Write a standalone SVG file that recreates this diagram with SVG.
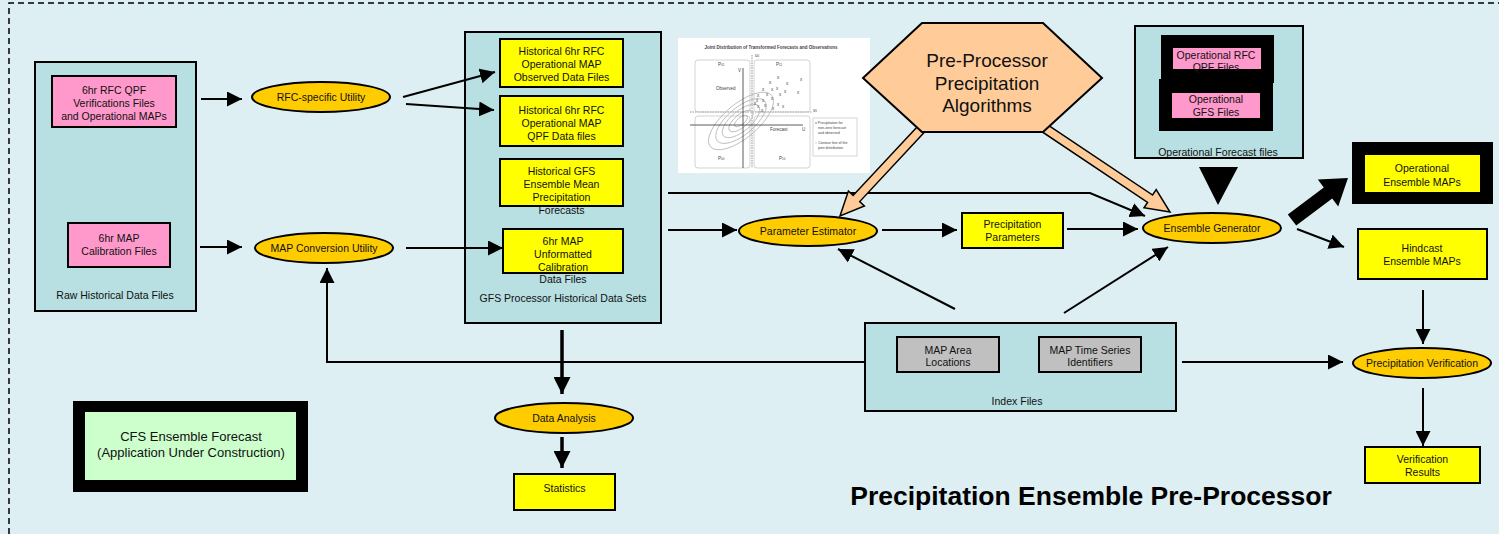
<svg xmlns="http://www.w3.org/2000/svg" width="1499" height="534" viewBox="0 0 1499 534">
<defs>
<style>
.cont{fill:#b8dfe2;stroke:#000;stroke-width:2}
.pink{fill:#ff99cc;stroke:#000;stroke-width:2}
.yel{fill:#ffff00;stroke:#000;stroke-width:2}
.ell{fill:#ffcc00;stroke:#000;stroke-width:2}
.grey{fill:#c0c0c0;stroke:#000;stroke-width:2}
.t{font-family:"Liberation Sans",Arial,sans-serif;font-size:10.5px;text-anchor:middle;fill:#111}
.big{font-size:19px}
.cfs{font-size:13px}
.ln{stroke:#000;stroke-width:2;fill:none}
.thk{stroke:#000;stroke-width:3.5;fill:none}
.blk{fill:#ffcc99;stroke:#000;stroke-width:1.5}
.ct{font-family:"Liberation Sans",Arial,sans-serif;font-size:4.5px;fill:#444}
.lg{font-size:3.6px}
.cq{fill:none;stroke:#c8c8c8;stroke-width:0.8}
</style>
<marker id="ah" markerUnits="userSpaceOnUse" markerWidth="15" markerHeight="15" refX="15" refY="7.5" orient="auto">
<path d="M0,0 L15,7.5 L0,15 z" fill="#000"/>
</marker>
<marker id="ahb" markerUnits="userSpaceOnUse" markerWidth="17" markerHeight="17" refX="17" refY="8.5" orient="auto">
<path d="M0,0 L17,8.5 L0,17 z" fill="#000"/>
</marker>
</defs>
<rect x="0" y="0" width="1499" height="534" fill="#ddeff2"/>
<path d="M9,534 V3 H1499" fill="none" stroke="#000" stroke-width="1.5" stroke-dasharray="6,4"/>

<g id="raw-historical">
<rect class="cont" x="35" y="62" width="161" height="249"/>
<text class="t" x="115" y="299">Raw Historical Data Files</text>
</g>
<g id="rfc-qpf-files">
<rect class="pink" x="52" y="76" width="124" height="51"/>
<text class="t" x="114" y="94">6hr RFC QPF</text>
<text class="t" x="114" y="107">Verifications Files</text>
<text class="t" x="114" y="120">and Operational MAPs</text>
</g>
<g id="map-calibration-files">
<rect class="pink" x="68" y="223" width="102" height="44"/>
<text class="t" x="119" y="242">6hr MAP</text>
<text class="t" x="119" y="255">Calibration Files</text>
</g>
<g id="rfc-utility">
<ellipse class="ell" cx="321" cy="97" rx="69" ry="15"/>
<text class="t" x="321" y="101">RFC-specific Utility</text>
</g>
<g id="map-conversion">
<ellipse class="ell" cx="324" cy="248" rx="69" ry="15"/>
<text class="t" x="324" y="252">MAP Conversion Utility</text>
</g>

<g id="gfs-processor">
<rect class="cont" x="465" y="32" width="196" height="291"/>
<text class="t" x="563" y="302">GFS Processor Historical Data Sets</text>
</g>
<g id="hist-observed">
<rect class="yel" x="500" y="39" width="123" height="48"/>
<text class="t" x="561.5" y="55">Historical 6hr RFC</text>
<text class="t" x="561.5" y="68">Operational MAP</text>
<text class="t" x="561.5" y="81">Observed Data Files</text>
</g>
<g id="hist-qpf">
<rect class="yel" x="500" y="96" width="123" height="50"/>
<text class="t" x="561.5" y="114">Historical 6hr RFC</text>
<text class="t" x="561.5" y="127">Operational MAP</text>
<text class="t" x="561.5" y="140">QPF Data files</text>
</g>
<g id="hist-gfs">
<rect class="yel" x="500" y="159" width="123" height="47"/>
<text class="t" x="561.5" y="175">Historical GFS</text>
<text class="t" x="561.5" y="188">Ensemble Mean</text>
<text class="t" x="561.5" y="201">Precipitation</text>
<text class="t" x="561.5" y="214">Forecasts</text>
</g>
<g id="map-unformatted">
<rect class="yel" x="503" y="229" width="120" height="44"/>
<text class="t" x="563" y="245">6hr MAP</text>
<text class="t" x="563" y="258">Unformatted</text>
<text class="t" x="563" y="271">Calibration</text>
<text class="t" x="563" y="283">Data Files</text>
</g>

<g id="chart">
<rect x="678" y="38" width="192" height="135" fill="#fff"/>
<text class="ct" x="771" y="49" text-anchor="middle" font-weight="bold">Joint Distribution of Transformed Forecasts and Observations</text>
<rect class="cq" x="695" y="60" width="55" height="52" rx="3"/>
<rect class="cq" x="754" y="60" width="56" height="52" rx="3"/>
<rect class="cq" x="695" y="116" width="55" height="52" rx="3"/>
<rect class="cq" x="754" y="116" width="56" height="52" rx="3"/>
<g fill="none" stroke="#aaa" stroke-width="0.7" transform="rotate(-40 741 121)">
<ellipse cx="741" cy="121" rx="8" ry="3.5"/>
<ellipse cx="741" cy="121" rx="15" ry="6.5"/>
<ellipse cx="741" cy="121" rx="23" ry="10"/>
<ellipse cx="741" cy="121" rx="31" ry="13.5"/>
<ellipse cx="741" cy="121" rx="40" ry="17"/>
</g>
<path d="M752,55 V168 M690,112 H812" stroke="#bbb" stroke-width="1.5" stroke-dasharray="1.5,1" fill="none"/>
<path d="M743,68 V168 M690,125 H803" stroke="#333" stroke-width="0.8" fill="none"/>
<text class="ct" x="718" y="66">P<tspan font-size="3px">01</tspan></text>
<text class="ct" x="776" y="66">P<tspan font-size="3px">11</tspan></text>
<text class="ct" x="718" y="160">P<tspan font-size="3px">00</tspan></text>
<text class="ct" x="779" y="160">P<tspan font-size="3px">10</tspan></text>
<text class="ct" x="738" y="72">V</text>
<text class="ct" x="802" y="131">U</text>
<text class="ct" x="755" y="57">u<tspan font-size="3px">0</tspan></text>
<text class="ct" x="813" y="112">v<tspan font-size="3px">0</tspan></text>
<text class="ct" x="716" y="90">Observed</text>
<text class="ct" x="770" y="131">Forecast</text>
<g class="ct" text-anchor="middle">
<text x="778" y="79">x</text><text x="787" y="85">x</text><text x="801" y="81">x</text><text x="770" y="84">x</text>
<text x="763" y="91">x</text><text x="772" y="91">x</text><text x="777" y="90">x</text><text x="785" y="93">x</text>
<text x="798" y="94">x</text><text x="758" y="97">x</text><text x="767" y="96">x</text><text x="780" y="96">x</text>
<text x="757" y="102">x</text><text x="763" y="102">x</text><text x="772" y="100">x</text><text x="778" y="106">x</text>
<text x="783" y="108">x</text><text x="758" y="108">x</text><text x="765" y="107">x</text><text x="762" y="112">x</text>
<text x="773" y="110">x</text><text x="755" y="105">x</text>
</g>
<rect x="813" y="118" width="44" height="38" fill="#fff" stroke="#bbb" stroke-width="0.6"/>
<text class="ct lg" x="815" y="124">x Precipitation for</text>
<text class="ct lg" x="818" y="129">non-zero forecast</text>
<text class="ct lg" x="818" y="134">and observed</text>
<text class="ct lg" x="815" y="144">○ Contour line of the</text>
<text class="ct lg" x="818" y="149">joint distribution</text>
</g>

<g id="op-forecast-files">
<rect class="cont" x="1135" y="26" width="168" height="132"/>
<text class="t" x="1218" y="156">Operational Forecast files</text>
</g>
<g id="op-rfc-qpf">
<rect x="1161" y="35" width="113" height="48" fill="#000"/>
<rect x="1173" y="48" width="88" height="21" fill="#ff99cc"/>
<text class="t" x="1216" y="59">Operational RFC</text>
<text class="t" x="1216" y="71">QPF Files</text>
</g>
<g id="op-gfs">
<rect x="1159" y="79" width="114" height="52" fill="#000"/>
<rect x="1172" y="93" width="88" height="25" fill="#ff99cc"/>
<text class="t" x="1216" y="103">Operational</text>
<text class="t" x="1216" y="116">GFS Files</text>
</g>

<g id="parameter-estimator">
<ellipse class="ell" cx="808" cy="231" rx="69" ry="15"/>
<text class="t" x="808" y="235">Parameter Estimator</text>
</g>
<g id="precip-parameters">
<rect class="yel" x="962" y="213" width="101" height="35"/>
<text class="t" x="1012.5" y="228">Precipitation</text>
<text class="t" x="1012.5" y="241">Parameters</text>
</g>
<g id="ensemble-generator">
<ellipse class="ell" cx="1212" cy="228" rx="69" ry="15"/>
<text class="t" x="1212" y="232">Ensemble Generator</text>
</g>
<g id="op-ensemble-maps">
<rect x="1352" y="142" width="141" height="62" fill="#000"/>
<rect x="1365" y="155" width="115" height="37" fill="#ffff00"/>
<text class="t" x="1422" y="172">Operational</text>
<text class="t" x="1422" y="186">Ensemble MAPs</text>
</g>
<g id="hindcast-maps">
<rect class="yel" x="1358" y="229" width="129" height="50"/>
<text class="t" x="1422" y="252">Hindcast</text>
<text class="t" x="1422" y="265">Ensemble MAPs</text>
</g>
<g id="index-files">
<rect class="cont" x="865" y="323" width="311" height="88"/>
<text class="t" x="1017" y="405">Index Files</text>
</g>
<g id="map-area">
<rect class="grey" x="897" y="337" width="102" height="35"/>
<text class="t" x="948" y="354">MAP Area</text>
<text class="t" x="948" y="366">Locations</text>
</g>
<g id="map-ts">
<rect class="grey" x="1039" y="337" width="102" height="35"/>
<text class="t" x="1090" y="354">MAP Time Series</text>
<text class="t" x="1090" y="366">Identifiers</text>
</g>
<g id="precip-verification">
<ellipse class="ell" cx="1422" cy="363" rx="69" ry="15"/>
<text class="t" x="1422" y="367">Precipitation Verification</text>
</g>
<g id="verification-results">
<rect class="yel" x="1365" y="447" width="115" height="36"/>
<text class="t" x="1422.5" y="463">Verification</text>
<text class="t" x="1422.5" y="476">Results</text>
</g>
<g id="data-analysis">
<ellipse class="ell" cx="564" cy="418" rx="69" ry="15"/>
<text class="t" x="564" y="422">Data Analysis</text>
</g>
<g id="statistics">
<rect class="yel" x="514" y="474" width="101" height="36"/>
<text class="t" x="564.5" y="492">Statistics</text>
</g>
<g id="cfs">
<rect x="73" y="401" width="235" height="91" fill="#000"/>
<rect x="85" y="412" width="211" height="68" fill="#ccffcc"/>
<text class="t cfs" x="191" y="441">CFS Ensemble Forecast</text>
<text class="t cfs" x="191" y="457">(Application Under Construction)</text>
</g>

<g id="connectors">
<line class="ln" x1="201" y1="99" x2="242" y2="99" marker-end="url(#ah)"/>
<line class="ln" x1="200" y1="247" x2="242" y2="247" marker-end="url(#ah)"/>
<line class="ln" x1="403" y1="97" x2="495" y2="72" marker-end="url(#ah)"/>
<line class="ln" x1="406" y1="104" x2="494" y2="110" marker-end="url(#ah)"/>
<line class="ln" x1="406" y1="248" x2="503" y2="248" marker-end="url(#ah)"/>
<polyline class="ln" points="865,362 327,362 327,268" marker-end="url(#ah)"/>
<line class="thk" x1="562" y1="330" x2="562" y2="394" marker-end="url(#ahb)"/>
<line class="thk" x1="562" y1="437" x2="562" y2="468" marker-end="url(#ahb)"/>
<polyline class="ln" points="668,193 1090,193 1145,216" marker-end="url(#ah)"/>
<line class="ln" x1="668" y1="230" x2="737" y2="230" marker-end="url(#ah)"/>
<line class="ln" x1="882" y1="230" x2="957" y2="230" marker-end="url(#ah)"/>
<line class="ln" x1="1067" y1="229" x2="1138" y2="229" marker-end="url(#ah)"/>
<line class="ln" x1="955" y1="309" x2="838" y2="249" marker-end="url(#ah)"/>
<line class="ln" x1="1064" y1="313" x2="1168" y2="247" marker-end="url(#ah)"/>
<polygon points="1199,167 1238,167 1218,205" fill="#000"/>
<polygon points="1287.8,214.4 1323.8,187.4 1317.8,179.4 1348,178 1338.2,206.6 1332.2,198.6 1296.2,225.6" fill="#000"/>
<line class="ln" x1="1297" y1="229" x2="1344" y2="247" marker-end="url(#ah)"/>
<line class="ln" x1="1182" y1="362" x2="1343" y2="362" marker-end="url(#ah)"/>
<line class="ln" x1="1423" y1="290" x2="1423" y2="344" marker-end="url(#ah)"/>
<line class="ln" x1="1423" y1="388" x2="1423" y2="446" marker-end="url(#ah)"/>
<polygon class="blk" points="921.7,121.9 853.1,195.4 848.4,191 840,216 864.4,206 859.7,201.6 928.3,128.1"/>
<polygon class="blk" points="1042.5,121.3 1152.6,195 1156.2,189.6 1170,212 1144,207.8 1147.6,202.4 1037.5,128.7"/>
</g>

<g id="pre-processor-algorithms">
<polygon points="863,78 922,23 1043,23 1102,78 1043,132 922,132" fill="#ffcc99" stroke="#000" stroke-width="2"/>
<text class="t big" x="987" y="67">Pre-Processor</text>
<text class="t big" x="987" y="90">Precipitation</text>
<text class="t big" x="987" y="112">Algorithms</text>
</g>

<text x="1091" y="505" text-anchor="middle" font-family="'Liberation Sans',Arial,sans-serif" font-weight="bold" font-size="26.5px" fill="#000">Precipitation Ensemble Pre-Processor</text>
</svg>
